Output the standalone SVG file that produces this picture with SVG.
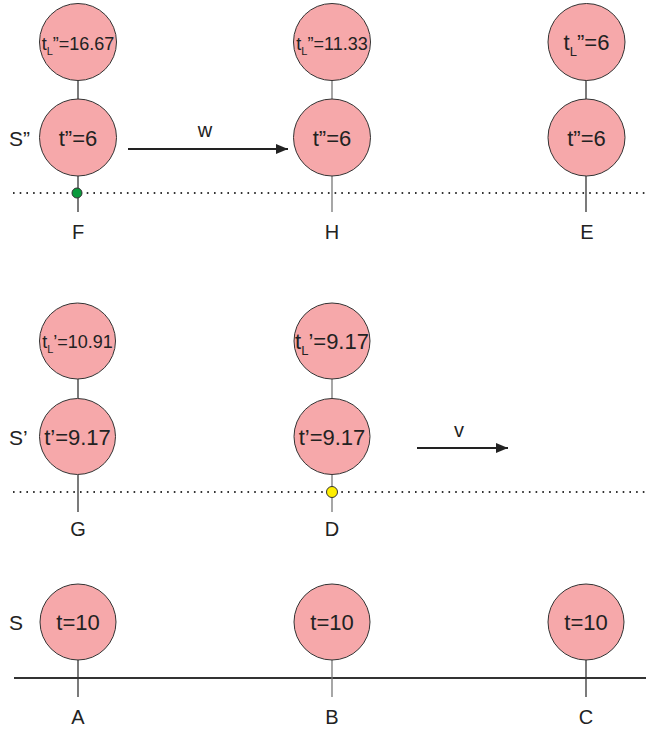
<svg xmlns="http://www.w3.org/2000/svg" width="646" height="729" viewBox="0 0 646 729">
<style>
.c{fill:#f6a8aa;stroke:#333;stroke-width:1}
.t{font-family:"Liberation Sans",Arial,sans-serif;fill:#222;text-anchor:middle}
.big{font-size:22px}
.mid{font-size:18px}
.lab{font-family:"Liberation Sans",Arial,sans-serif;fill:#222;font-size:20px;text-anchor:middle}
.sl{font-family:"Liberation Sans",Arial,sans-serif;fill:#222;font-size:21px}
.dk{stroke:#333;stroke-width:1.3}
.lt{stroke:#777;stroke-width:1.3}
.dot{stroke:#333;stroke-width:2;stroke-dasharray:1.6 5.1;fill:none}
.arr{stroke:#222;stroke-width:2}
</style>
<defs>
<marker id="ah" markerWidth="12" markerHeight="10" refX="12" refY="5" orient="auto" markerUnits="userSpaceOnUse">
<path d="M0,0 L12,5 L0,10 Z" fill="#222"/>
</marker>
</defs>
<g id="connectors">
<line class="dot" x1="13" y1="193" x2="646" y2="193"/>
<line class="dot" x1="13" y1="492" x2="646" y2="492"/>
<line x1="14" y1="678" x2="646" y2="678" stroke="#333" stroke-width="2"/>
<line class="dk" x1="78" y1="80" x2="78" y2="99"/>
<line class="dk" x1="78" y1="176" x2="78" y2="212"/>
<line class="lt" x1="332" y1="80" x2="332" y2="99"/>
<line class="lt" x1="332" y1="176" x2="332" y2="212"/>
<line class="dk" x1="586" y1="80" x2="586" y2="99"/>
<line class="dk" x1="586" y1="176" x2="586" y2="212"/>
<line class="dk" x1="78" y1="379" x2="78" y2="398"/>
<line class="dk" x1="78" y1="475" x2="78" y2="512"/>
<line class="lt" x1="332" y1="379" x2="332" y2="398"/>
<line class="lt" x1="332" y1="475" x2="332" y2="512"/>
<line class="dk" x1="78" y1="660" x2="78" y2="697"/>
<line class="lt" x1="332" y1="660" x2="332" y2="697"/>
<line class="dk" x1="586" y1="660" x2="586" y2="697"/>
<line class="arr" x1="128" y1="149" x2="288" y2="149" marker-end="url(#ah)"/>
<line class="arr" x1="417" y1="448" x2="508" y2="448" marker-end="url(#ah)"/>
<circle cx="77" cy="193" r="5" fill="#0a9a3c" stroke="#333" stroke-width="1"/>
<circle cx="332" cy="492" r="5.5" fill="#ffee00" stroke="#333" stroke-width="1"/>
</g>
<g id="labels">
<text class="sl" x="9" y="146">S”</text>
<text class="sl" x="9" y="445">S’</text>
<text class="sl" x="9" y="630">S</text>
<text class="lab" x="205" y="137">w</text>
<text class="lab" x="459" y="437">v</text>
<text class="lab" x="78" y="239">F</text>
<text class="lab" x="332" y="239">H</text>
<text class="lab" x="587" y="239">E</text>
<text class="lab" x="78" y="536">G</text>
<text class="lab" x="332" y="536">D</text>
<text class="lab" x="78" y="724">A</text>
<text class="lab" x="332" y="724">B</text>
<text class="lab" x="586" y="724">C</text>
</g>
<g id="F-tL">
<circle class="c" cx="78" cy="42" r="38.5"/>
<text class="t mid" x="78" y="50">t<tspan font-size="11" dy="5">L</tspan><tspan dy="-5">”=16.67</tspan></text>
</g>
<g id="F-t">
<circle class="c" cx="78" cy="137.5" r="38.5"/>
<text class="t big" x="78" y="145.5">t”=6</text>
</g>
<g id="H-tL">
<circle class="c" cx="332" cy="42" r="38.5"/>
<text class="t mid" x="332" y="50">t<tspan font-size="11" dy="5">L</tspan><tspan dy="-5">”=11.33</tspan></text>
</g>
<g id="H-t">
<circle class="c" cx="332" cy="137.5" r="38.5"/>
<text class="t big" x="332" y="145.5">t”=6</text>
</g>
<g id="E-tL">
<circle class="c" cx="586.5" cy="42" r="38.5"/>
<text class="t big" x="586.5" y="50">t<tspan font-size="13" dy="6">L</tspan><tspan dy="-6">”=6</tspan></text>
</g>
<g id="E-t">
<circle class="c" cx="586.5" cy="137.5" r="38.5"/>
<text class="t big" x="586.5" y="145.5">t”=6</text>
</g>
<g id="G-tL">
<circle class="c" cx="77.5" cy="341" r="38"/>
<text class="t mid" x="77.5" y="348">t<tspan font-size="11" dy="5">L</tspan><tspan dy="-5">’=10.91</tspan></text>
</g>
<g id="G-t">
<circle class="c" cx="77.5" cy="436.5" r="38"/>
<text class="t big" x="77.5" y="444.5">t’=9.17</text>
</g>
<g id="D-tL">
<circle class="c" cx="332" cy="341" r="38"/>
<text class="t big" x="332" y="349">t<tspan font-size="13" dy="6">L</tspan><tspan dy="-6">’=9.17</tspan></text>
</g>
<g id="D-t">
<circle class="c" cx="332" cy="436.5" r="38"/>
<text class="t big" x="332" y="444.5">t’=9.17</text>
</g>
<g id="A">
<circle class="c" cx="78" cy="622" r="38"/>
<text class="t big" x="78" y="630">t=10</text>
</g>
<g id="B">
<circle class="c" cx="332" cy="622" r="38"/>
<text class="t big" x="332" y="630">t=10</text>
</g>
<g id="C">
<circle class="c" cx="586" cy="622" r="38"/>
<text class="t big" x="586" y="630">t=10</text>
</g>
</svg>
